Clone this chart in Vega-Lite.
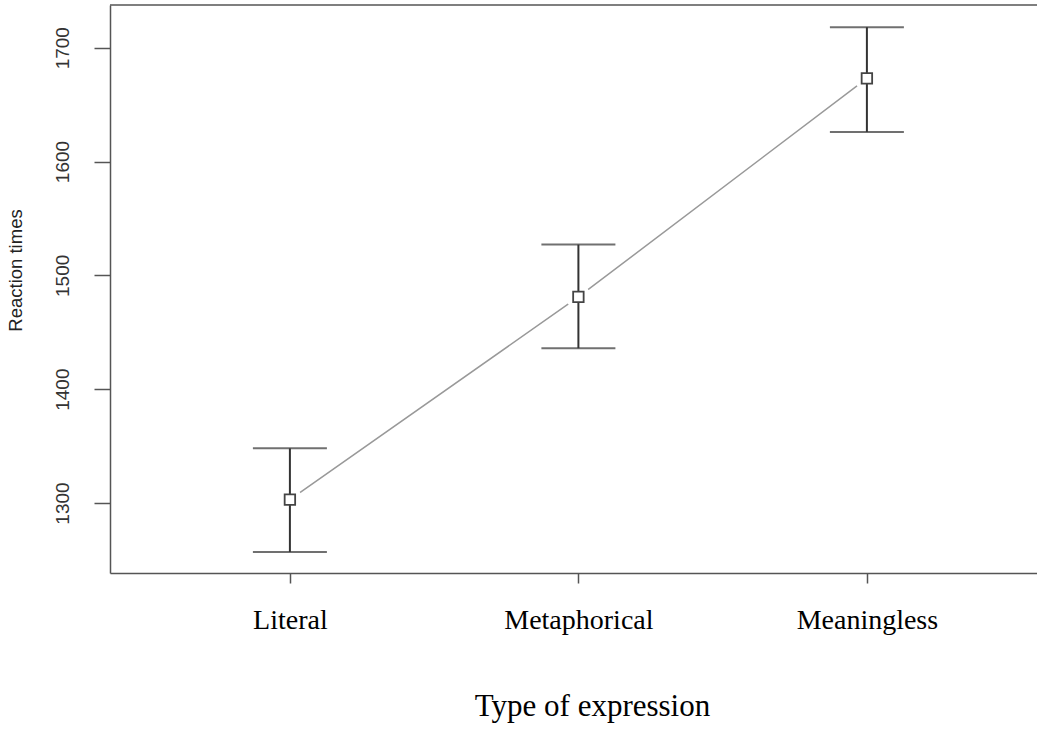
{
  "$schema": "https://vega.github.io/schema/vega-lite/v6.json",
  "width": 927,
  "height": 568,
  "autosize": {"type": "none"},
  "padding": {"left": 110, "top": 5, "right": 0, "bottom": 157},
  "background": "white",
  "config": {
    "view": {"stroke": null},
    "axis": {"grid": false, "domainColor": "#555", "domainWidth": 1.5, "tickColor": "#555", "tickWidth": 1.5}
  },
  "data": {
    "values": [
      {"type": "Literal", "mean": 1303, "lower": 1257, "upper": 1348},
      {"type": "Metaphorical", "mean": 1481, "lower": 1436, "upper": 1527},
      {"type": "Meaningless", "mean": 1673, "lower": 1626, "upper": 1718}
    ]
  },
  "encoding": {
    "x": {
      "field": "type",
      "type": "nominal",
      "sort": null,
      "scale": {"type": "point", "padding": 0.6066, "align": 0.514},
      "axis": {
        "title": "Type of expression",
        "labelAngle": 0,
        "labelFont": "Liberation Serif",
        "labelFontSize": 28,
        "labelColor": "black",
        "labelBaseline": "alphabetic",
        "tickSize": 10,
        "labelPadding": 45,
        "titleFont": "Liberation Serif",
        "titleFontSize": 31,
        "titleFontWeight": "normal",
        "titleColor": "black",
        "titleBaseline": "alphabetic",
        "titleX": 482,
        "titleY": 142
      }
    }
  },
  "layer": [
    {
      "mark": {"type": "rule", "stroke": "#555", "strokeWidth": 1.5},
      "data": {"values": [{}]},
      "encoding": {"x": null, "y": {"datum": 1737.5, "type": "quantitative"}}
    },
    {
      "mark": {"type": "line", "color": "#999", "strokeWidth": 1.5},
      "encoding": {
        "y": {
          "field": "mean",
          "type": "quantitative",
          "scale": {"domain": [1238.5, 1737.5], "nice": false, "zero": false},
          "axis": {
            "title": "Reaction times",
            "values": [1300, 1400, 1500, 1600, 1700],
            "format": "d",
            "tickSize": 16,
            "labelPadding": 32,
            "labelAngle": 270,
            "labelAlign": "center",
            "labelBaseline": "middle",
            "labelFont": "Liberation Sans",
            "labelFontSize": 19,
            "labelColor": "#333",
            "titleFont": "Liberation Sans",
            "titleFontSize": 18.5,
            "titleFontWeight": "normal",
            "titleColor": "#222",
            "titleAngle": 270,
            "titleAlign": "center",
            "titleBaseline": "middle",
            "titleX": -94.5,
            "titleY": 265
          }
        }
      }
    },
    {
      "mark": {"type": "point", "shape": "circle", "filled": true, "color": "white", "opacity": 1, "size": 616},
      "encoding": {"y": {"field": "mean", "type": "quantitative"}}
    },
    {
      "mark": {"type": "rule", "color": "#333", "strokeWidth": 2},
      "encoding": {
        "y": {"field": "lower", "type": "quantitative"},
        "y2": {"field": "upper"}
      }
    },
    {
      "mark": {"type": "tick", "color": "#333", "size": 74, "thickness": 2, "orient": "horizontal"},
      "encoding": {"y": {"field": "lower", "type": "quantitative"}}
    },
    {
      "mark": {"type": "tick", "color": "#333", "size": 74, "thickness": 2, "orient": "horizontal"},
      "encoding": {"y": {"field": "upper", "type": "quantitative"}}
    },
    {
      "mark": {"type": "point", "shape": "square", "filled": false, "fill": "white", "stroke": "#444", "strokeWidth": 1.8, "opacity": 1, "size": 110},
      "encoding": {"y": {"field": "mean", "type": "quantitative"}}
    }
  ]
}
